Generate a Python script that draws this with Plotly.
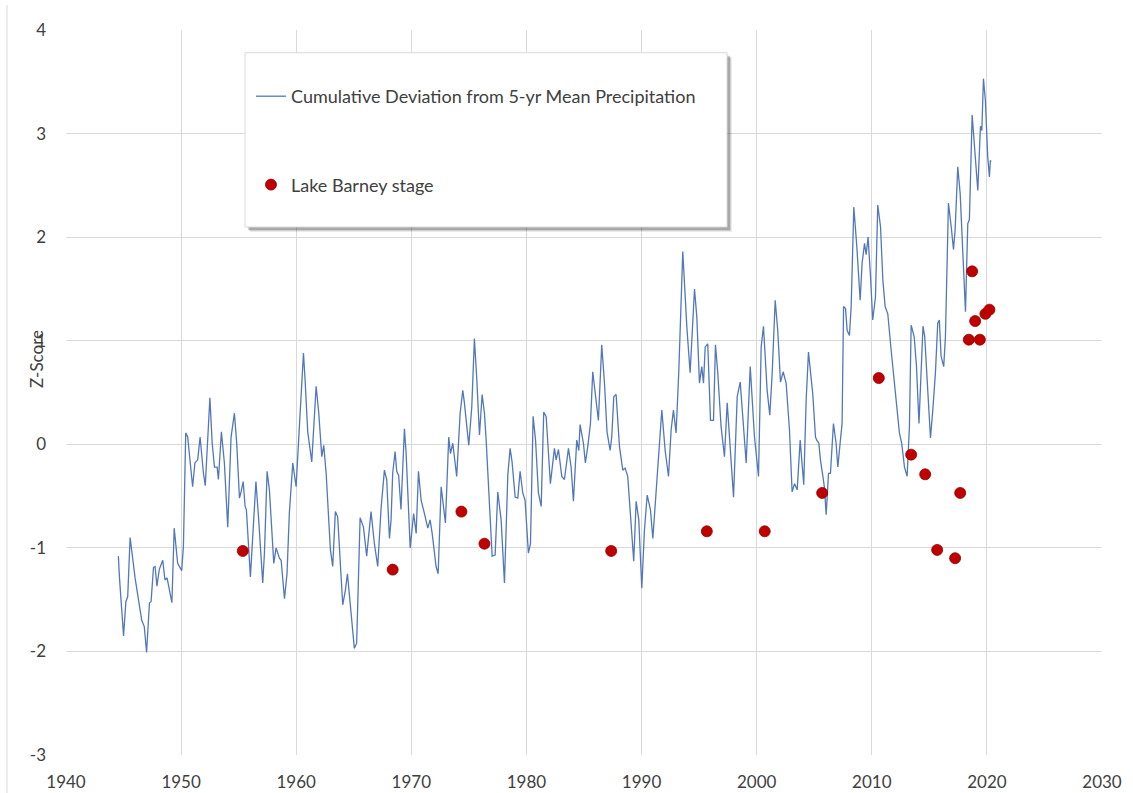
import plotly.graph_objects as go

# Cumulative deviation from 5-yr mean precipitation
line_years = [
    1944.55, 1944.64, 1945.00, 1945.20, 1945.36, 1945.57, 1946.00, 1946.23, 1946.58, 1946.80,
    1947.00, 1947.25, 1947.39, 1947.60, 1947.74, 1947.90, 1948.10, 1948.40, 1948.60, 1948.78,
    1949.20, 1949.40, 1949.70, 1950.05, 1950.20, 1950.40, 1950.57, 1951.00, 1951.20, 1951.44,
    1951.65, 1951.94, 1952.10, 1952.50, 1952.70, 1952.90, 1953.13, 1953.24, 1953.50, 1953.76,
    1954.05, 1954.34, 1954.63, 1954.83, 1955.07, 1955.21, 1955.39, 1955.56, 1955.67, 1956.02,
    1956.22, 1956.50, 1956.74, 1957.09, 1957.24, 1957.47, 1957.67, 1958.05, 1958.25, 1958.54,
    1958.69, 1958.98, 1959.20, 1959.40, 1959.70, 1959.99, 1960.22, 1960.63, 1960.77, 1961.00,
    1961.35, 1961.73, 1961.96, 1962.22, 1962.39, 1962.60, 1962.97, 1963.17, 1963.40, 1963.60,
    1964.04, 1964.27, 1964.45, 1964.68, 1964.85, 1965.05, 1965.25, 1965.55, 1965.84, 1966.12,
    1966.50, 1966.79, 1967.08, 1967.37, 1967.66, 1967.86, 1968.10, 1968.24, 1968.38, 1968.59,
    1968.73, 1968.90, 1969.10, 1969.40, 1969.55, 1969.90, 1970.20, 1970.42, 1970.62, 1970.85,
    1971.14, 1971.43, 1971.63, 1971.81, 1972.15, 1972.33, 1972.59, 1972.96, 1973.25, 1973.40,
    1973.60, 1973.94, 1974.24, 1974.47, 1974.61, 1974.99, 1975.25, 1975.48, 1975.68, 1975.92,
    1976.15, 1976.35, 1976.50, 1976.79, 1977.02, 1977.28, 1977.51, 1977.80, 1978.09, 1978.38,
    1978.58, 1978.75, 1979.02, 1979.25, 1979.45, 1979.68, 1979.88, 1980.17, 1980.35, 1980.58,
    1980.79, 1981.04, 1981.28, 1981.50, 1981.71, 1982.08, 1982.43, 1982.58, 1982.78, 1983.07,
    1983.30, 1983.65, 1983.88, 1984.08, 1984.37, 1984.55, 1984.66, 1984.95, 1985.12, 1985.33,
    1985.56, 1985.76, 1985.97, 1986.25, 1986.54, 1986.78, 1987.00, 1987.27, 1987.41, 1987.59,
    1987.79, 1988.08, 1988.37, 1988.57, 1988.80, 1989.10, 1989.32, 1989.53, 1989.76, 1990.02,
    1990.25, 1990.49, 1990.77, 1990.98, 1991.21, 1991.41, 1991.76, 1992.05, 1992.34, 1992.57,
    1992.77, 1993.00, 1993.23, 1993.58, 1993.93, 1994.22, 1994.60, 1994.80, 1995.03, 1995.23,
    1995.38, 1995.53, 1995.75, 1995.99, 1996.25, 1996.42, 1996.62, 1996.91, 1997.20, 1997.44,
    1997.64, 1997.99, 1998.31, 1998.57, 1998.79, 1999.09, 1999.44, 1999.81, 2000.16, 2000.39,
    2000.59, 2000.91, 2001.14, 2001.35, 2001.61, 2001.83, 2002.07, 2002.30, 2002.56, 2002.85,
    2003.08, 2003.29, 2003.52, 2003.78, 2004.09, 2004.30, 2004.50, 2004.68, 2004.87, 2005.11,
    2005.22, 2005.40, 2005.54, 2005.74, 2005.88, 2006.04, 2006.24, 2006.41, 2006.67, 2006.90,
    2007.05, 2007.25, 2007.42, 2007.55, 2007.72, 2007.86, 2008.06, 2008.21, 2008.44, 2008.70,
    2008.99, 2009.16, 2009.37, 2009.51, 2009.68, 2009.89, 2010.08, 2010.32, 2010.52, 2010.76,
    2010.96, 2011.16, 2011.39, 2011.68, 2011.97, 2012.20, 2012.40, 2012.60, 2012.84, 2013.07,
    2013.27, 2013.42, 2013.68, 2013.88, 2014.10, 2014.45, 2014.60, 2014.81, 2015.10, 2015.30,
    2015.53, 2015.73, 2015.87, 2016.02, 2016.25, 2016.40, 2016.66, 2016.90, 2017.10, 2017.24,
    2017.47, 2017.68, 2017.90, 2018.14, 2018.34, 2018.48, 2018.72, 2018.98, 2019.21, 2019.44,
    2019.56, 2019.70, 2019.87, 2020.07, 2020.22, 2020.30, 2020.37,
]
line_values = [
    -1.08, -1.28, -1.85, -1.52, -1.47, -0.90, -1.29, -1.44, -1.70, -1.76,
    -2.01, -1.53, -1.52, -1.19, -1.18, -1.37, -1.21, -1.12, -1.31, -1.29,
    -1.53, -0.81, -1.15, -1.22, -0.99, 0.11, 0.07, -0.41, -0.18, -0.15,
    0.07, -0.28, -0.40, 0.45, 0.01, -0.22, -0.22, -0.34, 0.12, -0.18,
    -0.80, 0.07, 0.30, 0.01, -0.52, -0.46, -0.36, -0.60, -0.63, -1.28,
    -0.89, -0.36, -0.73, -1.34, -1.05, -0.26, -0.44, -1.15, -1.00, -1.10,
    -1.12, -1.49, -1.25, -0.67, -0.18, -0.41, 0.06, 0.88, 0.62, 0.12,
    -0.17, 0.56, 0.30, -0.12, -0.01, -0.28, -1.02, -1.18, -0.65, -0.70,
    -1.55, -1.41, -1.25, -1.53, -1.79, -1.97, -1.92, -0.71, -0.80, -1.08,
    -0.65, -0.96, -1.18, -0.62, -0.25, -0.34, -0.91, -0.73, -0.28, -0.07,
    -0.26, -0.30, -0.63, 0.15, -0.09, -1.00, -0.67, -0.86, -0.26, -0.54,
    -0.67, -0.81, -0.73, -0.86, -1.18, -1.25, -0.41, -0.76, 0.07, -0.09,
    0.01, -0.31, 0.30, 0.52, 0.40, -0.01, 0.36, 1.02, 0.64, 0.09,
    0.48, 0.30, 0.04, -0.60, -1.08, -1.07, -0.46, -0.73, -1.34, -0.30,
    -0.04, -0.17, -0.51, -0.52, -0.26, -0.47, -0.54, -1.05, -0.96, 0.27,
    0.04, -0.47, -0.60, 0.31, 0.27, -0.38, -0.04, -0.15, -0.05, -0.31,
    -0.34, -0.04, -0.22, -0.55, 0.04, -0.06, 0.19, 0.01, -0.18, -0.02,
    0.20, 0.70, 0.48, 0.23, 0.96, 0.59, 0.12, -0.06, 0.07, 0.46,
    0.48, -0.02, -0.25, -0.23, -0.31, -0.83, -1.13, -0.55, -0.73, -1.39,
    -0.83, -0.49, -0.63, -0.91, -0.54, -0.18, 0.33, -0.06, -0.31, 0.14,
    0.33, 0.11, 0.69, 1.86, 1.14, 0.69, 1.50, 1.23, 0.59, 0.75,
    0.59, 0.94, 0.97, 0.23, 0.23, 0.96, 0.69, 0.17, -0.12, 0.40,
    0.07, -0.51, 0.46, 0.60, 0.27, -0.18, 0.75, 0.07, -0.31, 0.94,
    1.14, 0.52, 0.28, 0.69, 1.39, 1.10, 0.60, 0.70, 0.59, 0.14,
    -0.46, -0.38, -0.44, 0.04, -0.39, 0.43, 0.89, 0.72, 0.49, 0.07,
    0.04, 0.01, -0.15, -0.30, -0.41, -0.68, -0.28, -0.28, 0.20, 0.01,
    -0.22, 0.01, 0.20, 1.33, 1.31, 1.10, 1.05, 1.33, 2.29, 1.91,
    1.39, 1.75, 1.94, 1.83, 2.00, 1.62, 1.20, 1.42, 2.31, 2.10,
    1.59, 1.33, 1.26, 0.91, 0.56, 0.33, 0.11, 0.01, -0.22, -0.31,
    0.17, 1.15, 1.04, 0.76, 0.20, 1.14, 1.04, 0.62, 0.06, 0.33,
    0.69, 1.17, 1.20, 0.85, 0.75, 1.04, 2.33, 2.10, 1.88, 2.07,
    2.68, 2.42, 1.84, 1.28, 2.13, 2.17, 3.18, 2.78, 2.45, 3.07,
    3.03, 3.53, 3.32, 2.78, 2.58, 2.74, 2.73,
]

# Lake Barney stage (z-score)
stage_years = [1955.36, 1968.38, 1974.35, 1976.35, 1987.36, 1995.67, 2000.70, 2005.69,
               2010.61, 2013.42, 2014.64, 2015.68, 2017.24, 2017.68, 2018.72, 2018.43,
               2018.98, 2019.39, 2019.87, 2020.22]
stage_values = [-1.03, -1.21, -0.65, -0.96, -1.03, -0.84, -0.84, -0.47,
                0.64, -0.10, -0.29, -1.02, -1.10, -0.47, 1.67, 1.01,
                1.19, 1.01, 1.26, 1.30]

x_ticks = [1940, 1950, 1960, 1970, 1980, 1990, 2000, 2010, 2020, 2030]
y_ticks = [-3, -2, -1, 0, 1, 2, 3, 4]

FONT = "Lato"
W, H = 1133, 793
ML, MR, MT, MB = 66, 31, 30, 38
PW, PH = W - ML - MR, H - MT - MB


def px(x):
    return (x - ML) / PW


def py(y):
    return (H - MB - y) / PH


fig = go.Figure()
fig.add_trace(go.Scatter(
    x=line_years, y=line_values, mode="lines",
    name="Cumulative Deviation from 5-yr Mean Precipitation",
    line=dict(color="#5278BA", width=1.3),
    legendgroup="a",
))
fig.add_trace(go.Scatter(
    x=stage_years, y=stage_values, mode="markers",
    name="Lake Barney stage",
    marker=dict(color="#C00000", size=11, line=dict(color="#8B0000", width=0.8)),
    legendgroup="b",
))

shapes = []
# legend box shadow + box
for off, op in [(5, 0.08), (4, 0.12), (3, 0.18)]:
    shapes.append(dict(type="rect", xref="paper", yref="paper", layer="above",
                       x0=px(245 + off), x1=px(727 + off), y0=py(227 + off), y1=py(52.7 + off),
                       fillcolor=f"rgba(0,0,0,{op})", line=dict(width=0)))
shapes.append(dict(type="rect", xref="paper", yref="paper", layer="above",
                   x0=px(245), x1=px(727), y0=py(227), y1=py(52.7),
                   fillcolor="white", line=dict(color="#D9D9D9", width=1)))
# outer chart border (left)
shapes.append(dict(type="line", xref="paper", yref="paper", layer="below",
                   x0=px(7), x1=px(7), y0=py(793), y1=py(5),
                   line=dict(color="#D9D9D9", width=1)))

fig.update_layout(
    width=W, height=H,
    margin=dict(l=ML, r=MR, t=MT, b=MB, autoexpand=False),
    paper_bgcolor="white", plot_bgcolor="white",
    font=dict(family=FONT, color="#404040", size=17),
    shapes=shapes,
    showlegend=True,
    legend=dict(
        x=px(251), y=py(78), xanchor="left", yanchor="top",
        bgcolor="rgba(0,0,0,0)", borderwidth=0,
        font=dict(family=FONT, size=18, color="#404040"),
        tracegroupgap=62, itemwidth=30,
    ),
    annotations=[dict(
        text="Z-Score", textangle=-90, xref="paper", yref="paper",
        x=px(36), y=py(359), xanchor="center", yanchor="middle",
        showarrow=False, font=dict(family=FONT, size=17, color="#404040"),
    )],
)
fig.update_xaxes(
    range=[1940, 2030], tickvals=x_ticks, ticktext=[str(t) for t in x_ticks],
    showgrid=True, gridcolor="#D9D9D9", gridwidth=1, zeroline=False,
    showline=False, ticks="", ticklabelstandoff=15, automargin=False,
    tickfont=dict(family=FONT, size=17, color="#404040"),
)
fig.update_yaxes(
    range=[-3, 4], tickvals=y_ticks, ticktext=[str(t) for t in y_ticks],
    showgrid=True, gridcolor="#D9D9D9", gridwidth=1, zeroline=False,
    showline=False, ticks="", ticklabelstandoff=19, automargin=False,
    tickfont=dict(family=FONT, size=17, color="#404040"),
)

fig.write_html("out.html", config={"displayModeBar": False},
               post_script="document.body.style.margin='0';")
